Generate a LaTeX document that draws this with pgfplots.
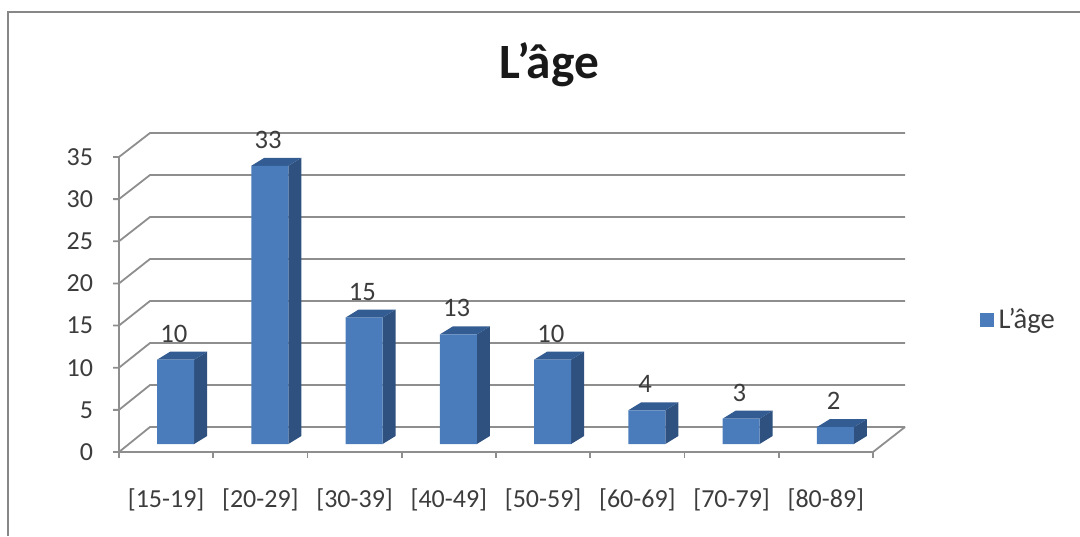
\documentclass[border=0pt]{standalone}
\usepackage{pgfplots}
\usepackage{pgfplotstable}
\usepackage{fontspec}
\setmainfont{Carlito}
\pgfplotsset{compat=1.18}

\definecolor{barfront}{HTML}{4A7CBB}
\definecolor{barside}{HTML}{2E5180}
\definecolor{bartop}{HTML}{335C92}
\definecolor{wallgray}{HTML}{8E8E8E}
\definecolor{labelgray}{HTML}{3C3C3C}

\pgfplotstableread{
idx val
0 10
1 33
2 15
3 13
4 10
5 4
6 3
7 2
}\agedata

% side and top face of one bar: x position, value
\newcommand{\barfaces}[2]{%
  \addplot[forget plot,draw=none,fill=barside] coordinates {
    ({#1+0.297},0) ({#1+0.435},0.949) ({#1+0.435},{#2+0.949}) ({#1+0.297},#2)} --cycle;
  \addplot[forget plot,draw=none,fill=bartop] coordinates {
    ({#1-0.096},#2) ({#1+0.297},#2) ({#1+0.435},{#2+0.949}) ({#1+0.042},{#2+0.949})} --cycle;
}

\begin{document}
\begin{tikzpicture}
\useasboundingbox (0,0) rectangle (810pt,-402pt);

% frame, walls and tick marks, in image pixels
\begin{scope}[x=0.75pt,y=-0.75pt]
  \draw[wallgray!95!black,line width=1.9pt] (8,536) -- (8,12) -- (1080,12);
  \begin{scope}[wallgray,line width=1.35pt]
    \foreach \k in {0,...,7} {
      \pgfmathsetmacro\yf{452-42.15*\k}
      \pgfmathsetmacro\yb{427-42*\k}
      \draw (113,\yf) -- (119,\yf) -- (150,\yb) -- (905,\yb);
    }
    \draw (119,157) -- (119,458);
    \draw (119,452) -- (873,452) -- (905,427);
    \foreach \k in {0,...,8} {
      \pgfmathsetmacro\xt{119+94.25*\k}
      \draw (\xt,452) -- (\xt,458);
    }
  \end{scope}
\end{scope}

\begin{axis}[
  at={(89.25pt,-339pt)},
  anchor=south west,
  scale only axis,
  width=589.5pt,
  height=239.25pt,
  xmin=-0.5, xmax=7.84,
  ymin=-0.949, ymax=36.89,
  clip=false,
  axis line style={draw=none},
  major tick length=0pt,
  xtick={0,...,7},
  xticklabels={{[15-19]},{[20-29]},{[30-39]},{[40-49]},{[50-59]},{[60-69]},{[70-79]},{[80-89]}},
  ytick={-0.949,4.051,9.051,14.051,19.051,24.051,29.051,34.051},
  yticklabels={0,5,10,15,20,25,30,35},
  tick label style={font=\fontsize{19.5}{21}\selectfont,text=labelgray},
  /pgf/number format/assume math mode=true,
  xticklabel style={yshift=-24pt},
  yticklabel style={xshift=-16pt},
  legend style={at={(1.095,0.415)},anchor=west,draw=none,fill=none,inner sep=0pt,
    font=\fontsize{21.5}{23}\selectfont,text=labelgray},
  legend cell align=left,
]
\barfaces{0}{10}
\barfaces{1}{33}
\barfaces{2}{15}
\barfaces{3}{13}
\barfaces{4}{10}
\barfaces{5}{4}
\barfaces{6}{3}
\barfaces{7}{2}
\addplot[ybar,draw=none,fill=barfront,bar width=27.75pt,bar shift=7.1pt,
  legend image code/.code={\fill[barfront] (0pt,-5.25pt) rectangle (10.5pt,5.25pt);},
  nodes near coords,
  every node near coord/.append style={anchor=center,yshift=19.5pt,xshift=5.75pt,
    font=\fontsize{20}{22}\selectfont,text=labelgray}]
  table[x=idx,y=val] {\agedata};
\addlegendentry{\hspace{1.5pt}L’âge}
\end{axis}

\node[font=\bfseries\fontsize{37}{42}\selectfont,text=black!90] at (412pt,-48.5pt) {L’âge};
\end{tikzpicture}
\end{document}
